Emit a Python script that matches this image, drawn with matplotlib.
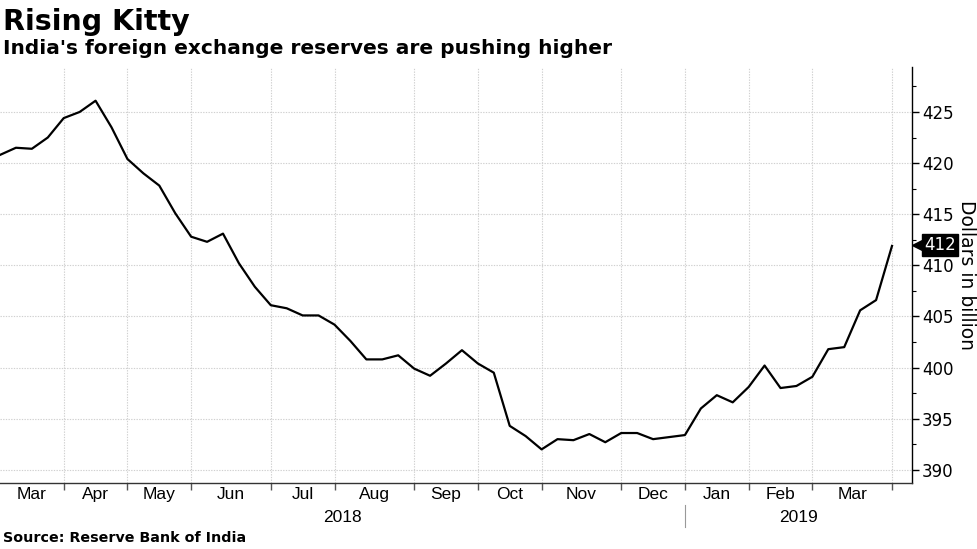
import numpy as np
import pandas as pd
import matplotlib
matplotlib.use("Agg")
import matplotlib.pyplot as plt
import matplotlib.dates as mdates
from matplotlib.transforms import blended_transform_factory

# Weekly forex reserves, USD bn, Fridays from 9 Mar 2018
start_date = "2018-03-09"
reserves = [420.8, 421.5, 421.4, 422.5, 424.4, 425.0, 426.1, 423.5, 420.4, 419.0,
            417.8, 415.1, 412.8, 412.3, 413.1, 410.2, 407.9, 406.1, 405.8, 405.1,
            405.1, 404.2, 402.6, 400.8, 400.8, 401.2, 399.9, 399.2, 400.4, 401.7,
            400.4, 399.5, 394.3, 393.3, 392.0, 393.0, 392.9, 393.5, 392.7, 393.6,
            393.6, 393.0, 393.2, 393.4, 396.0, 397.3, 396.6, 398.1, 400.2, 398.0,
            398.2, 399.1, 401.8, 402.0, 405.6, 406.6, 411.9]
last_label = "412"
y_ticks = [390, 395, 400, 405, 410, 415, 420, 425]
month_names = ["Mar", "Apr", "May", "Jun", "Jul", "Aug", "Sep", "Oct", "Nov",
               "Dec", "Jan", "Feb", "Mar"]
years = ["2018", "2019"]

dates = pd.date_range(start_date, periods=len(reserves), freq="W-FRI")
x = mdates.date2num(dates)

# first weekly observation of each month -> month boundaries
s = pd.Series(dates)
firsts = s.groupby([s.dt.year, s.dt.month]).first().values
bounds = mdates.date2num(pd.DatetimeIndex(firsts[1:]))

narrow = ["Liberation Sans Narrow", "Liberation Sans", "DejaVu Sans"]

fig = plt.figure(figsize=(9.77, 5.49), dpi=100)
ax = fig.add_axes([0.0, 0.12, 0.9335, 0.758])

ax.plot(x, reserves, color="black", lw=1.6, zorder=3)

x_left = x[0]
x_right = x[-1] + 8.8
ax.set_xlim(x_left, x_right)
ax.set_ylim(388.7, 429.4)

# spines
for sp in ["top", "left"]:
    ax.spines[sp].set_visible(False)
ax.spines["right"].set_linewidth(1.0)
ax.spines["bottom"].set_linewidth(1.0)
ax.spines["bottom"].set_color("#333333")

# y axis on the right
ax.yaxis.tick_right()
ax.set_yticks(y_ticks)
ax.set_yticks(np.arange(390, 430, 2.5), minor=True)
ax.tick_params(axis="y", which="major", length=5, width=1, direction="out",
               labelsize=12, pad=2)
ax.tick_params(axis="y", which="minor", length=3, width=0.8, direction="out")
ax.yaxis.set_label_position("right")
ax.set_ylabel("Dollars in billion", fontsize=13.5, rotation=270, labelpad=16)

# x axis: tick marks at month boundaries, labels at month centres
ax.set_xticks(bounds)
ax.set_xticklabels([])
ax.tick_params(axis="x", which="major", length=5, width=1, color="#555555")
edges = np.concatenate([[x_left], bounds])
mids = (edges[:-1] + edges[1:]) / 2
ax.set_xticks(mids, minor=True)
ax.set_xticklabels(month_names, minor=True, fontfamily=narrow, fontsize=12.5)
ax.tick_params(axis="x", which="minor", length=0, pad=3)

# grid
ax.grid(True, which="major", color="#d0d0d0", ls=(0, (1.2, 1.2)), lw=0.8)

# year labels and separator
trans = blended_transform_factory(ax.transData, ax.transAxes)
jan = bounds[9]
ax.text((x_left + jan) / 2, -0.083, years[0], transform=trans, ha="center",
        va="center", fontsize=12.5, fontfamily=narrow)
ax.text((jan + x_right) / 2, -0.083, years[1], transform=trans, ha="center",
        va="center", fontsize=12.5, fontfamily=narrow)
ax.plot([jan, jan], [-0.053, -0.106], transform=trans, color="#999999",
        lw=0.8, clip_on=False)

# last value tag
trans_r = blended_transform_factory(ax.transAxes, ax.transData)
ax.plot([1.009], [412], marker="<", ms=11, color="black", transform=trans_r,
        clip_on=False, zorder=5)
ax.text(1.013, 412, last_label, transform=trans_r, ha="left", va="center",
        color="white", fontsize=12, zorder=6,
        bbox=dict(boxstyle="square,pad=0.12", fc="black", ec="black"))

# titles and source
fig.text(0.003, 0.946, "Rising Kitty", fontsize=20.5, fontweight="bold", ha="left",
         va="baseline")
fig.text(0.003, 0.902, "India's foreign exchange reserves are pushing higher",
         fontsize=14.5, fontweight="bold", ha="left", va="baseline")
fig.text(0.003, 0.012, "Source: Reserve Bank of India", fontsize=10.3,
         fontweight="bold", ha="left", va="baseline")

fig.savefig("out.png", dpi=100)
